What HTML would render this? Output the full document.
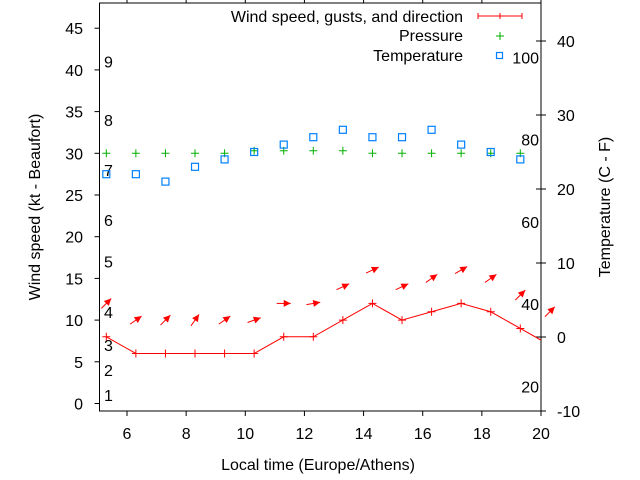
<!DOCTYPE html>
<html><head><meta charset="utf-8"><style>
body{margin:0;background:#fff}
svg{display:block;font-family:"Liberation Sans",sans-serif;font-size:16px}
</style></head><body>
<svg id="c" width="640" height="480" xmlns="http://www.w3.org/2000/svg"></svg>
<script>
const hours=[5.3,6.3,7.3,8.3,9.3,10.3,11.3,12.3,13.3,14.3,15.3,16.3,17.3,18.3,19.3,20.3];
const wind=[8,6,6,6,6,6,8,8,10,12,10,11,12,11,9,7];
const gusts=[12,10,10,10,10,10,12,12,14,16,14,15,16,15,13,11];
const dirAngles=[45,35,45,55,35,20,0,10,25,25,25,35,30,35,45,45];
const pressure=[30,30,30,30,30,30.3,30.3,30.3,30.3,30,30,30,30,30,30];
const temperature=[22,22,21,23,24,25,26,27,28,27,27,28,26,25,24];
const xTicks=[6,8,10,12,14,16,18,20];
const yTicks=[0,5,10,15,20,25,30,35,40,45];
const y2Ticks=[-10,0,10,20,30,40];
const fLabels=[20,40,60,80,100];
const beaufort=[[1,1],[2,4],[3,7],[4,11],[5,17],[6,22],[7,28],[8,34],[9,41]];

const L=99.5,R=541,T=3,B=411;
const X=h=>L+(h-5.07)*(R-L)/(20-5.07);
const Y=v=>403.5-v*8.34;
const Y2=c=>337-c*7.4;
const svg=document.getElementById('c');
const NS='http://www.w3.org/2000/svg';
function el(tag,attrs,parent){const e=document.createElementNS(NS,tag);for(const k in attrs)e.setAttribute(k,attrs[k]);(parent||svg).appendChild(e);return e;}
function txt(x,y,s,anchor,extra){const t=el('text',Object.assign({x:x,y:y,'text-anchor':anchor||'middle',fill:'#000'},extra||{}));t.textContent=s;return t;}

const defs=el('defs',{});const cp=el('clipPath',{id:'pc'},defs);el('rect',{x:L,y:T,width:R-L,height:B-T},cp);

const frame=el('rect',{x:L,y:T,width:R-L,height:B-T,fill:'none',stroke:'#000','stroke-width':1});


xTicks.forEach(h=>{const x=X(h);
 el('line',{x1:x,y1:B,x2:x,y2:B+5,stroke:'#000'});
 el('line',{x1:x,y1:T,x2:x,y2:T-5,stroke:'#000'});
 const t=txt(x,439,String(h));});
yTicks.forEach(v=>{const y=Y(v);
 el('line',{x1:L,y1:y,x2:L-5,y2:y,stroke:'#000'});
 const t=txt(83,y+6,String(v),'end');});
y2Ticks.forEach(c=>{const y=Y2(c);
 el('line',{x1:R,y1:y,x2:R+5,y2:y,stroke:'#000'});
 el('line',{x1:R,y1:y,x2:R-5,y2:y,stroke:'#000'});
 const t=txt(557,y+6,String(c),'start');});
fLabels.forEach(f=>{const c=(f-32)*5/9;
 const t=txt(539,Y2(c)+6,String(f),'end');});
beaufort.forEach(b=>{
 const t=txt(104,Y(b[1])+6,String(b[0]),'start');});

let t=txt(318,470,'Local time (Europe/Athens)');
t=txt(0,0,'Wind speed (kt - Beaufort)','middle',{transform:'translate(40,207) rotate(-90)'});
t=txt(0,0,'Temperature (C - F)','middle',{transform:'translate(610,207) rotate(-90)'});

const g=el('g',{'clip-path':'url(#pc)'});
const pts=hours.map((h,i)=>X(h)+','+Y(wind[i])).join(' ');
const line=el('polyline',{points:pts,fill:'none',stroke:'#f00','stroke-width':1},g);

hours.forEach((h,i)=>{const x=X(h),y=Y(wind[i]);
 const p=el('path',{d:`M${x-4} ${y}h8M${x} ${y-4}v8`,stroke:'#f00','stroke-width':1},g);
 });

hours.forEach((h,i)=>{const cx=X(h),cy=Y(gusts[i]);const a=dirAngles[i]*Math.PI/180;
 const dx=Math.cos(a),dy=-Math.sin(a);
 const x1=cx-dx*7,y1=cy-dy*7,x2=cx+dx*7,y2=cy+dy*7;
 const px=-dy,py=dx;
 const ag=el('g',{});
 
 el('line',{x1:x1,y1:y1,x2:x2,y2:y2,stroke:'#f00','stroke-width':1},ag);
 el('polygon',{points:`${x2},${y2} ${x2-dx*7+px*3.5},${y2-dy*7+py*3.5} ${x2-dx*7-px*3.5},${y2-dy*7-py*3.5}`,fill:'#f00'},ag);});

pressure.forEach((v,i)=>{const x=X(hours[i]),y=Y(v);
 const p=el('path',{d:`M${x-4} ${y}h8M${x} ${y-4}v8`,stroke:'#00b000','stroke-width':1});
 });
temperature.forEach((c,i)=>{const x=X(hours[i]),y=Y2(c);
 const r=el('rect',{x:x-3.5,y:y-3.5,width:7,height:7,fill:'none',stroke:'#0080ff','stroke-width':1.2});
 });

const lg=el('g',{});
[['Wind speed, gusts, and direction',22],['Pressure',41],['Temperature',61]].forEach(([s,y])=>{
 const tt=el('text',{x:463,y:y,'text-anchor':'end',fill:'#000'},lg);tt.textContent=s;
 });
el('path',{d:'M478 16h44M478 13v6M500 13v6M522 13v6',stroke:'#f00'},lg);
el('path',{d:'M496 36h8M500 32v8',stroke:'#00b000'},lg);
el('rect',{x:496.5,y:52.5,width:6,height:6,fill:'none',stroke:'#0080ff','stroke-width':1.2},lg);
</script>
</body></html>
